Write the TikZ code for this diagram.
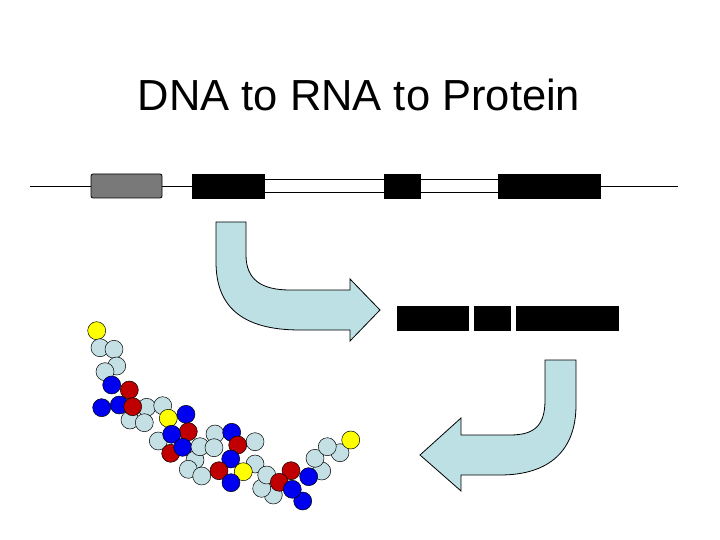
\documentclass[tikz,border=0pt]{standalone}
\usepackage{fontspec}
\setmainfont{Liberation Sans}
\begin{document}
\begin{tikzpicture}[x=1pt,y=-1pt,
  exon/.style={fill=black,draw=black},
  bentarrow/.style={fill=arrowblue,draw=black,line width=0.8pt,line join=miter},
  lb/.style={circle,draw=black,fill=beadlb,minimum size=18pt,inner sep=0pt,line width=0.5pt},
  bl/.style={lb,fill=beadblue},
  rd/.style={lb,fill=beadred},
  yl/.style={lb,fill=beadyellow}]
\definecolor{arrowblue}{HTML}{BCE0E4}
\definecolor{beadlb}{HTML}{C4E0E4}
\definecolor{beadblue}{HTML}{0000F0}
\definecolor{beadred}{HTML}{C00000}
\definecolor{beadyellow}{HTML}{FFFF00}
\useasboundingbox (0,0) rectangle (720,540);
\node (title) at (359,95) {\fontsize{43.5}{48}\selectfont DNA to RNA to Protein};
% gene
\coordinate (gl) at (30,186); \coordinate (gr) at (678,186);
\draw[line width=0.8pt] (gl) -- (gr);
\fill[white] (264,179) rectangle (498,192);
\draw[line width=0.8pt] (264,179) -- (498,179) (264,192) -- (498,192);
\draw[fill=gray!95!black,line width=0.8pt,rounded corners=2pt] (91,174) rectangle (162,198);
\node[exon,minimum width=72pt,minimum height=24pt,inner sep=0pt] (e1) at (228,186) {};
\node[exon,minimum width=36pt,minimum height=24pt,inner sep=0pt] (e2) at (402,186) {};
\node[exon,minimum width=102pt,minimum height=24pt,inner sep=0pt] (e3) at (549,186) {};
% mRNA
\node[exon,minimum width=71pt,minimum height=24pt,inner sep=0pt] (m1) at (432.5,318) {};
\node[exon,minimum width=36pt,minimum height=24pt,inner sep=0pt] (m2) at (492,318) {};
\node[exon,minimum width=102pt,minimum height=24pt,inner sep=0pt] (m3) at (567,318) {};
% arrows
\draw[bentarrow] (216,222) -- (216,262) .. controls (216,305) and (240,330) .. (300,330) -- (350,330)
  -- (350,341) -- (380,310) -- (350,279) -- (350,290) -- (290,290)
  .. controls (262,290) and (246,280) .. (246,255) -- (246,222) -- cycle;
\draw[bentarrow] (576,360) -- (576,405) .. controls (576,450) and (550,475) .. (500,475) -- (461,475)
  -- (461,491) -- (420,455) -- (461,418) -- (461,435) -- (510,435)
  .. controls (535,435) and (545,425) .. (545,400) -- (545,360) -- cycle;
% protein beads
\foreach \c/\x/\y in {yl/96.7/330.7, lb/100/347.7, lb/114/349.3, lb/116.7/366, lb/105/371.7,
  bl/111.7/385, rd/129.3/390, lb/146.7/407.3, lb/130/420, lb/144.3/422.7, bl/101.7/407.7,
  bl/119.3/405, rd/132.7/406.7, lb/162.7/405.7, yl/168.3/418.3, lb/158.3/441, bl/186/414.3,
  rd/188.3/431.7, rd/170.7/453.3, bl/171.7/434.3, bl/182.7/447.3, lb/215/434, lb/195/460,
  lb/188.3/469.3, lb/201.7/476, lb/200/446.7, lb/214/447.7, lb/255/441.7, bl/231.7/432.3,
  rd/237.7/445, bl/230.7/459, lb/255/464, lb/273.3/495, lb/261.7/488.3, lb/266.7/475,
  rd/219/470.7, yl/243.3/471.7, bl/231/482.7, rd/291/470.7, rd/279.3/482.3,
  bl/302.7/501, bl/292.3/489.3, lb/321.7/471, lb/315/458.3, lb/340/452.7, lb/327.3/446.7,
  bl/308.7/476.7, yl/350.7/440}
  \node[\c] at (\x,\y) {};
\end{tikzpicture}
\end{document}
